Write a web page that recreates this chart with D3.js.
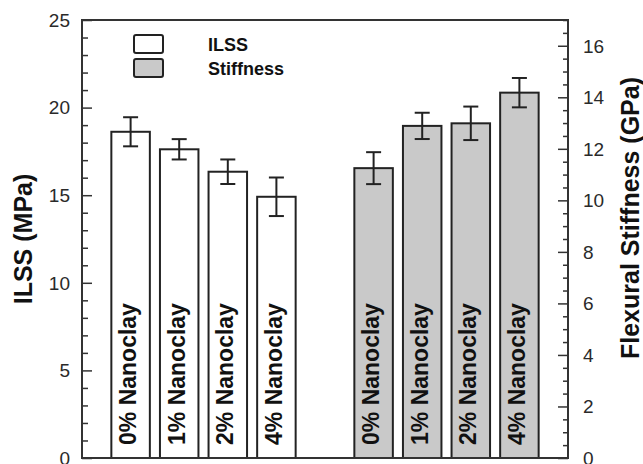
<!DOCTYPE html>
<html>
<head>
<meta charset="utf-8">
<script src="https://cdn.jsdelivr.net/npm/d3@7"></script>
<style>
  html, body { margin: 0; padding: 0; background: #fff; }
  svg { display: block; font-family: "Liberation Sans", Arial, sans-serif; }
</style>
</head>
<body>
<svg id="chart" width="643" height="464"></svg>
<script>
// Nanoclay loading per bar
const categories = ["0% Nanoclay", "1% Nanoclay", "2% Nanoclay", "4% Nanoclay"];
// Interlaminar shear strength (MPa) and its error
const ilssValues = [18.62, 17.62, 16.34, 14.91];
const ilssErrors = [0.83, 0.58, 0.70, 1.10];
// Flexural stiffness (GPa) and its error
const stiffValues = [11.25, 12.89, 12.99, 14.18];
const stiffErrors = [0.62, 0.51, 0.65, 0.57];
// Axis ticks
const leftTicks = [0, 5, 10, 15, 20, 25];
const rightTicks = [0, 2, 4, 6, 8, 10, 12, 14, 16];
// Slot index of each bar along the x axis (slot 5 left empty between groups)
const ilssSlots = [1, 2, 3, 4];
const stiffSlots = [6, 7, 8, 9];

const svg = d3.select("#chart");
const L = 82, R = 568, T = 20, B = 458;

const x = d3.scaleLinear().domain([0, 10]).range([L, R]);
const yL = d3.scaleLinear().domain([0, 25]).range([B, T]);
const yR = d3.scaleLinear().domain([0, 17]).range([B, T]);
const barW = 38.5;
const ink = "#222";

function drawSeries(values, errors, slots, scale, fill) {
  const g = svg.append("g");
  const data = values.map((v, i) => ({ v, e: errors[i], s: slots[i], label: categories[i] }));
  g.selectAll("rect").data(data).join("rect")
    .attr("x", d => x(d.s) - barW / 2)
    .attr("y", d => scale(d.v))
    .attr("width", barW)
    .attr("height", d => B - scale(d.v))
    .attr("fill", fill)
    .attr("stroke", ink)
    .attr("stroke-width", 2);
  // error bars
  const eb = g.selectAll("g.err").data(data).join("g").attr("class", "err")
    .attr("stroke", ink).attr("stroke-width", 2);
  eb.append("line")
    .attr("x1", d => x(d.s)).attr("x2", d => x(d.s))
    .attr("y1", d => scale(d.v + d.e)).attr("y2", d => scale(d.v - d.e));
  eb.append("line")
    .attr("x1", d => x(d.s) - 7.5).attr("x2", d => x(d.s) + 7.5)
    .attr("y1", d => scale(d.v + d.e)).attr("y2", d => scale(d.v + d.e));
  eb.append("line")
    .attr("x1", d => x(d.s) - 7.5).attr("x2", d => x(d.s) + 7.5)
    .attr("y1", d => scale(d.v - d.e)).attr("y2", d => scale(d.v - d.e));
  // rotated labels inside bars
  g.selectAll("text").data(data).join("text")
    .attr("transform", d => `translate(${x(d.s) + 5.5},${B - 13}) rotate(-90)`)
    .attr("font-size", 23)
    .attr("font-weight", "bold")
    .attr("fill", "#111")
    .text(d => d.label);
}

drawSeries(ilssValues, ilssErrors, ilssSlots, yL, "#ffffff");
drawSeries(stiffValues, stiffErrors, stiffSlots, yR, "#c9c9c9");

// Left axis: ticks point inward
const leftAxis = d3.axisRight(yL).tickValues(leftTicks).tickSize(10).tickFormat("");
const gL = svg.append("g").attr("transform", `translate(${L},0)`).call(leftAxis);
const leftMinor = d3.axisRight(yL).tickValues(d3.range(0, 26, 1).filter(v => v % 5 !== 0)).tickSize(6).tickFormat("");
const gLm = svg.append("g").attr("transform", `translate(${L},0)`).call(leftMinor);
[gL, gLm].forEach(g => { g.select(".domain").remove(); g.selectAll("line").attr("stroke", "#333").attr("stroke-width", 1.5); });
svg.append("g").selectAll("text").data(leftTicks).join("text")
  .attr("x", 70).attr("y", d => yL(d)).attr("dy", "0.36em")
  .attr("text-anchor", "end").attr("font-size", 19).attr("fill", "#2a2a2a")
  .text(d => d);

// Right axis: ticks point inward
const rightAxis = d3.axisLeft(yR).tickValues(rightTicks).tickSize(10).tickFormat("");
const gR = svg.append("g").attr("transform", `translate(${R},0)`).call(rightAxis);
const rightMinor = d3.axisLeft(yR).tickValues(d3.range(0.5, 17.01, 0.5).filter(v => v % 2 !== 0)).tickSize(5).tickFormat("");
const gRm = svg.append("g").attr("transform", `translate(${R},0)`).call(rightMinor);
[gR, gRm].forEach(g => { g.select(".domain").remove(); g.selectAll("line").attr("stroke", "#333").attr("stroke-width", 1.5); });
svg.append("g").selectAll("text").data(rightTicks).join("text")
  .attr("x", 583).attr("y", d => yR(d)).attr("dy", "0.36em")
  .attr("text-anchor", "start").attr("font-size", 19).attr("fill", "#2a2a2a")
  .text(d => d);

// Frame around plot area
svg.append("rect")
  .attr("x", L).attr("y", T).attr("width", R - L).attr("height", B - T)
  .attr("fill", "none").attr("stroke", "#333").attr("stroke-width", 2);

// Axis titles
svg.append("text")
  .attr("transform", `translate(32,239) rotate(-90)`)
  .attr("text-anchor", "middle").attr("font-size", 25).attr("font-weight", "bold").attr("fill", "#111")
  .text("ILSS (MPa)");
svg.append("text")
  .attr("transform", `translate(639,218) rotate(-90)`)
  .attr("text-anchor", "middle").attr("font-size", 25).attr("font-weight", "bold").attr("fill", "#111")
  .text("Flexural Stiffness (GPa)");

// Legend
const legendItems = [{ name: "ILSS", fill: "#ffffff" }, { name: "Stiffness", fill: "#c9c9c9" }];
const lg = svg.append("g");
lg.selectAll("rect").data(legendItems).join("rect")
  .attr("x", 134).attr("y", (d, i) => 35 + i * 24)
  .attr("width", 29).attr("height", 18)
  .attr("rx", 2)
  .attr("fill", d => d.fill).attr("stroke", ink).attr("stroke-width", 2);
lg.selectAll("text").data(legendItems).join("text")
  .attr("x", 208).attr("y", (d, i) => 51 + i * 24)
  .attr("font-size", 18).attr("font-weight", "bold").attr("fill", "#111")
  .text(d => d.name);
</script>
</body>
</html>
